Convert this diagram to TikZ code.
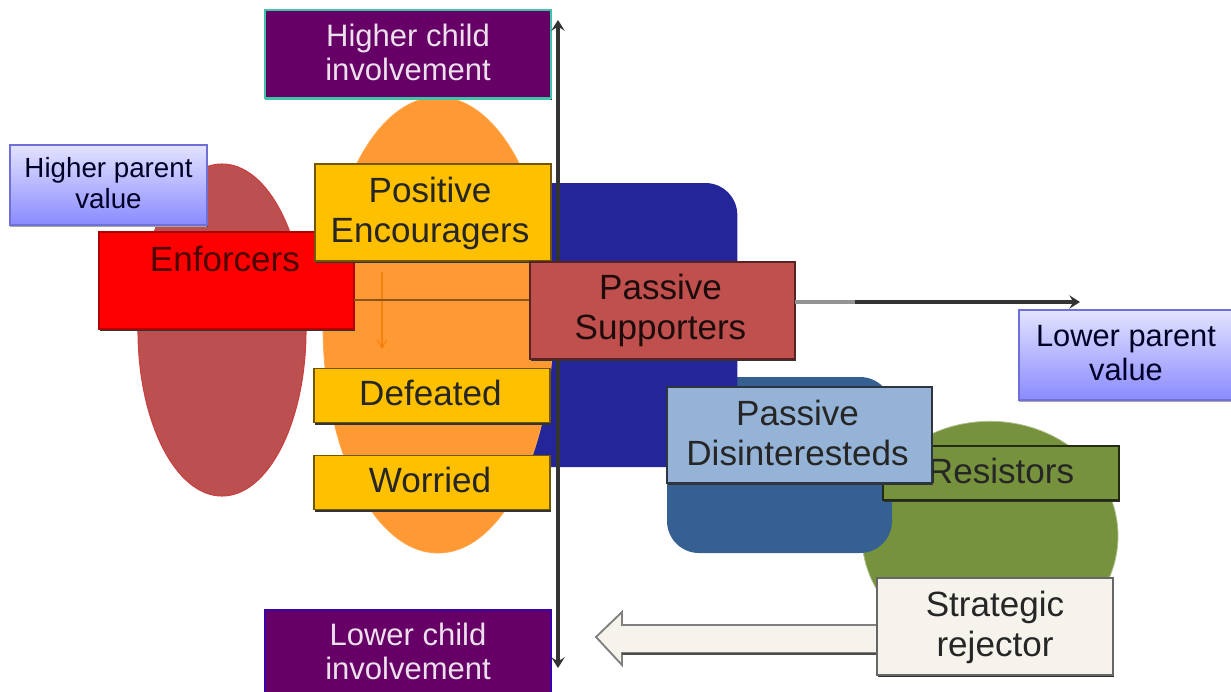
\documentclass[tikz,border=0pt]{standalone}
\usepackage{fontspec}
\setmainfont{Liberation Sans}
\usetikzlibrary{shapes.geometric,arrows.meta,shadows,calc}
\definecolor{plum}{HTML}{660066}
\definecolor{teal2}{HTML}{3FC4A8}
\definecolor{amber}{HTML}{FFC000}
\definecolor{orangeblob}{HTML}{FF9933}
\definecolor{redblob}{HTML}{BC4F4F}
\definecolor{redline}{HTML}{C8403F}
\definecolor{navyblob}{HTML}{25259A}
\definecolor{steelblob}{HTML}{366092}
\definecolor{greenblob}{HTML}{76923C}
\definecolor{brick}{HTML}{C0504D}
\definecolor{paleblue}{HTML}{95B3D7}
\definecolor{cream}{HTML}{F5F3EB}
\definecolor{axisdark}{HTML}{333333}
\definecolor{valueline}{HTML}{6F6FD8}
% text moved inside its box: dx, dy (up), lines
\newcommand{\moved}[3]{\hspace*{#1}\raisebox{\dimexpr #2-.25em\relax}[0pt][0pt]{\begin{tabular}{@{}c@{}}#3\end{tabular}}\hspace*{-#1}}
\tikzset{
  x=0.75pt,y=-0.75pt,
  blob/.style={draw=none,inner sep=0pt,outer sep=0pt},
  oval/.style={blob,ellipse},
  rblock/.style={blob,rectangle,rounded corners=24pt},
  boxbase/.style={rectangle,inner sep=0pt,outer sep=0pt,text=black!85,
    font=\fontsize{26.3}{30}\selectfont,line width=0.9pt,
    drop shadow={shadow xshift=0.5pt,shadow yshift=-1.3pt,fill=black!80,opacity=1}},
  tallbox/.style={boxbase,minimum width=177pt,minimum height=72.75pt},
  widebox/.style={boxbase,minimum width=198.75pt,minimum height=72.75pt},
  flatbox/.style={boxbase,minimum width=177pt,minimum height=41pt},
  plumbox/.style={boxbase,fill=plum,text=white!88!plum,minimum width=214.5pt,
    font=\fontsize{23.25}{25.5}\selectfont,
    drop shadow={shadow xshift=0pt,shadow yshift=-1.5pt,fill=teal2,opacity=1}},
  valuebox/.style={boxbase,draw=valueline,top color=blue!11,bottom color=blue!46,
    line width=1pt,text=black!85!blue,
    drop shadow={shadow xshift=0.3pt,shadow yshift=-1.2pt,fill=gray!70,opacity=1}},
  axisline/.style={draw=axisdark,line width=2.6pt,
    {Stealth[length=8pt,width=10pt,inset=3pt]}-{Stealth[length=8pt,width=10pt,inset=3pt]}},
  axisend/.style={draw=axisdark,line width=2.4pt,-{Stealth[length=8pt,width=10pt,inset=3pt]}},
  fadeline/.style={draw=gray!85,line width=2.4pt},
  brownline/.style={draw=orangeblob!55!black,line width=1.1pt},
  downarrow/.style={draw=orange!95!black,line width=0.9pt,opacity=.7,-{Straight Barb[length=6pt,width=7pt]}},
  blockarrow/.style={draw=gray,fill=cream,line width=1.4pt,line join=miter},
}
\begin{document}
\begin{tikzpicture}
\useasboundingbox (0,0) rectangle (1231,692);

% background shapes
\node[oval,fill=redblob,draw=redline,line width=.8pt,minimum width=126pt,minimum height=249pt] (redE) at (222,330) {};
\node[oval,fill=greenblob,draw=greenblob!60!white,line width=.6pt,minimum width=192pt,minimum height=172pt] (greenE) at (990,536) {};
\node[rblock,fill=steelblob,minimum width=168.75pt,minimum height=132pt] (steelR) at (779.5,465) {};
\node[rblock,fill=navyblob,minimum width=170pt,minimum height=213pt] (navyR) at (624,325) {};
\node[oval,fill=orangeblob,draw=orange!70,line width=.6pt,minimum width=172.5pt,minimum height=342pt] (orangeE) at (438,325) {};

% boxes that lie under others
\node[plumbox,minimum height=66pt,draw=teal2] (hc) at (408,54) {\moved{0pt}{-2.3pt}{Higher child\\involvement}};
\node[plumbox,minimum height=67.5pt,draw=blue!45!plum,
  drop shadow={shadow xshift=0pt,shadow yshift=0pt,fill=plum,opacity=1}] (lc) at (408,655) {\moved{0pt}{-0.75pt}{Lower child\\involvement}};
\node[valuebox,minimum width=147.75pt,minimum height=60pt,font=\fontsize{20.8}{23.25}\selectfont] (hp) at (108.5,185) {\moved{0pt}{-1pt}{Higher parent\\value}};
\node[valuebox,minimum width=160.5pt,minimum height=67.5pt,font=\fontsize{23.1}{25.5}\selectfont] (lp) at (1126,355) {\moved{0pt}{-1.5pt}{Lower parent\\value}};

% coordinates for the connectors
\coordinate (vtop) at (558,20);
\coordinate (vbot) at (558,668);
\coordinate (htip) at (1080,302);
\coordinate (hfade) at (855,302);
\coordinate (hleft) at (354,300);
\coordinate (hmid) at (530,300);
\coordinate (dtop) at (382,272);
\coordinate (dbot) at (382,349);
\coordinate (btip) at (596,637);

\draw[downarrow] (dtop) -- (dbot);
\draw[axisline] (vbot) -- (vtop);

% boxes and the axis that joins them
\node[tallbox,minimum width=191.25pt,fill=red,draw=red!70!black,text=red!30!black] (enf) at (226.5,280.5) {\moved{-1.2pt}{13pt}{Enforcers}};
\node[tallbox,fill=amber,draw=amber!45!black] (pe) at (433,212.5) {\moved{-2.2pt}{-1.5pt}{Positive\\Encouragers}};
\node[flatbox,fill=amber,draw=amber!45!black] (def) at (432,395.5) {\moved{-1.2pt}{-1.5pt}{Defeated}};
\node[flatbox,fill=amber,draw=amber!45!black] (wor) at (432,482.5) {\moved{-1.5pt}{-1pt}{Worried}};
\draw[brownline] (hleft) -- (hmid);
\node[widebox,fill=brick,draw=brick!45!black,text=brick!15!black] (ps) at (662.5,310.5) {\moved{-1.5pt}{-0.75pt}{Passive\\Supporters}};
\draw[axisend] (ps.east |- htip) -- (htip);
\draw[fadeline] (ps.east |- htip) -- (hfade);

\node[flatbox,minimum height=40.5pt,fill=greenblob,draw=greenblob!30!black] (res) at (1001,473) {\moved{0pt}{-1.5pt}{Resistors}};
\node[widebox,minimum height=72pt,fill=paleblue,draw=paleblue!30!black] (pd) at (799.5,435) {\moved{-1.5pt}{-1.5pt}{Passive\\Disinteresteds}};

% block arrow
\draw[blockarrow] (877,625) -- (622,625) -- (622,612) -- (btip) -- (622,665) -- (622,653) -- (877,653);
\draw[draw=black!70,line width=1.6pt] (622,654) -- (877,654);
\node[tallbox,fill=cream,draw=black!60] (sr) at (995,626.5) {\moved{0pt}{-1.5pt}{Strategic\\rejector}};
\end{tikzpicture}
\end{document}
